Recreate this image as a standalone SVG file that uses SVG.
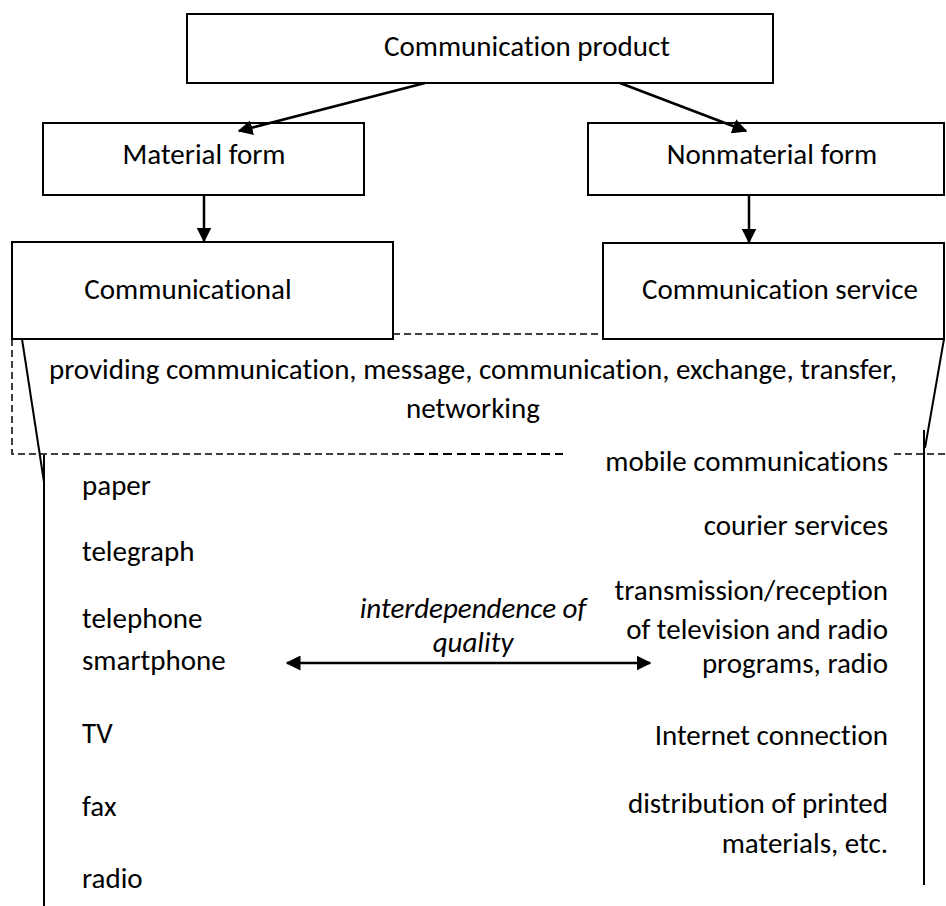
<svg xmlns="http://www.w3.org/2000/svg" width="946" height="906" viewBox="0 0 946 906">
  <style>
    .box { fill: #fff; stroke: #000; stroke-width: 2; }
    .t { font-family: Carlito, Lato, "Liberation Sans", sans-serif; font-size: 29px; fill: #000; font-variant-ligatures: none; }
    .mid { text-anchor: middle; }
    .end { text-anchor: end; }
    .it { font-style: italic; }
    .ln { stroke: #000; stroke-width: 2; fill: none; }
    .dash { stroke: #000; stroke-width: 1.5; stroke-dasharray: 7 4; fill: none; }
    .dash2 { stroke: #000; stroke-width: 2; stroke-dasharray: 9 5; fill: none; }
    .arr { stroke: #000; stroke-width: 2.5; fill: none; }
  </style>
  <defs>
    <marker id="head" viewBox="0 0 10 10" refX="9" refY="5" markerWidth="6" markerHeight="6" markerUnits="strokeWidth" orient="auto-start-reverse">
      <path d="M0,0 L10,5 L0,10 Z" fill="#000"/>
    </marker>
  </defs>
  <rect width="946" height="906" fill="#fff"/>

  <!-- dashed bracket around the shared functions -->
  <g id="frame">
    <path class="dash" d="M393,334 H603"/>
    <path class="dash" d="M12,339 V454 H415"/>
    <path class="dash2" d="M415,454 H563"/>
    <path class="dash" d="M894,454 H946"/>
    <path class="ln" d="M22,339 L44,482"/>
    <path class="ln" d="M44,455 V906"/>
    <path class="ln" d="M944,339 L925,448"/>
    <path class="ln" d="M924,430 V885"/>
  </g>

  <g id="product">
    <rect class="box" x="187" y="14" width="586" height="69"/>
    <text class="t mid" x="527" y="56">Communication product</text>
  </g>
  <g id="material">
    <rect class="box" x="43" y="123" width="321" height="72"/>
    <text class="t mid" x="204" y="164">Material form</text>
  </g>
  <g id="nonmaterial">
    <rect class="box" x="588" y="123" width="356" height="72"/>
    <text class="t mid" x="772" y="164">Nonmaterial form</text>
  </g>
  <g id="communicational">
    <rect class="box" x="12" y="242" width="381" height="97"/>
    <text class="t mid" x="188" y="299">Communicational</text>
  </g>
  <g id="service">
    <rect class="box" x="603" y="243" width="341" height="96"/>
    <text class="t mid" x="780" y="299">Communication service</text>
  </g>

  <g id="connectors">
    <line class="arr" x1="425" y1="83" x2="239" y2="131" marker-end="url(#head)"/>
    <line class="arr" x1="620" y1="83" x2="746" y2="131" marker-end="url(#head)"/>
    <line class="arr" x1="204" y1="195" x2="204" y2="241" marker-end="url(#head)"/>
    <line class="arr" x1="749" y1="195" x2="749" y2="242" marker-end="url(#head)"/>
    <line class="arr" x1="287" y1="663" x2="650" y2="663" marker-start="url(#head)" marker-end="url(#head)"/>
  </g>

  <g id="functions">
    <text class="t mid" x="473" y="379">providing communication, message, communication, exchange, transfer,</text>
    <text class="t mid" x="473" y="418">networking</text>
  </g>

  <g id="material-list">
    <text class="t" x="82" y="495">paper</text>
    <text class="t" x="82" y="561">telegraph</text>
    <text class="t" x="82" y="628">telephone</text>
    <text class="t" x="82" y="670">smartphone</text>
    <text class="t" x="82" y="743">TV</text>
    <text class="t" x="82" y="816">fax</text>
    <text class="t" x="82" y="888">radio</text>
  </g>

  <g id="service-list">
    <text class="t end" x="888" y="471">mobile communications</text>
    <text class="t end" x="888" y="535">courier services</text>
    <text class="t end" x="888" y="600">transmission/reception</text>
    <text class="t end" x="888" y="639">of television and radio</text>
    <text class="t end" x="888" y="673">programs, radio</text>
    <text class="t end" x="888" y="745">Internet connection</text>
    <text class="t end" x="888" y="813">distribution of printed</text>
    <text class="t end" x="888" y="853">materials, etc.</text>
  </g>

  <g id="quality">
    <text class="t mid it" x="473" y="618">interdependence of</text>
    <text class="t mid it" x="473" y="652">quality</text>
  </g>
</svg>
